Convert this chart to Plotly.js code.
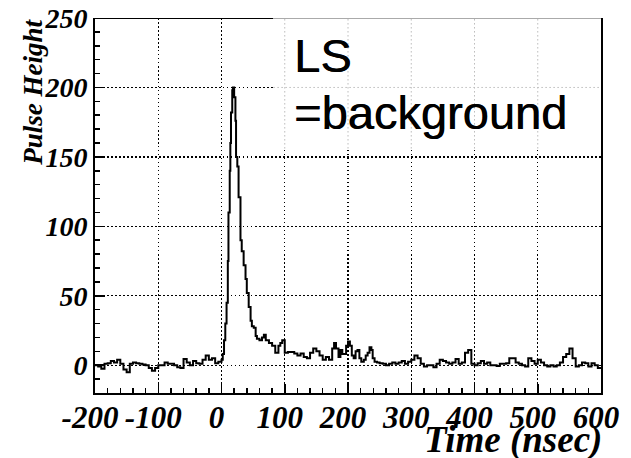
<!DOCTYPE html>
<html>
<head>
<meta charset="utf-8">
<script src="https://cdn.plot.ly/plotly-3.0.1.min.js"></script>
<style>html,body{margin:0;padding:0;background:#fff;}#chart{width:631px;height:458px;}</style>
</head>
<body>
<div id="chart"></div>
<script>
// Time (ns) of each histogram bin start
const timeNs = [-200,-195,-190,-185,-180,-175,-170,-165,-160,-155,-150,-145,-140,-135,-130,-125,-120,-115,-110,-105,
  -100,-95,-90,-85,-80,-75,-70,-65,-60,-55,-50,-45,-40,-35,-30,-25,-20,-15,-10,-5,
  0,2,4,6,8,10,11,13,14,15,17,18,20,22,23,25,27,30,32,35,38,40,43,46,48,51,54,56,60,64,67,70,75,80,85,90,93,96,
  100,105,110,115,120,125,130,135,140,145,150,155,160,165,170,175,178,181,185,188,191,194,197,
  200,203,206,209,212,215,218,221,225,228,231,234,237,239,242,246,250,255,260,265,270,275,280,285,290,295,
  300,305,310,315,320,325,330,335,340,345,350,355,360,365,370,375,380,385,390,395,
  400,405,410,415,420,425,430,435,440,445,450,455,460,465,470,475,480,485,490,495,
  500,505,510,515,520,525,530,535,540,545,550,555,560,565,570,575,580,585,590,595,600];
// Pulse height
const pulseHeight = [0,-1,-2.5,1,1.5,3,2,4,1,-3,-5,1,2,1.5,1,0.5,0,-2,-4,-2,
  0,0,2,1,1,0,-1.5,-2,4.5,2,0,3,1.5,1,4,7,4,5,1.5,2.5,
  4,8,18,30,45,75,110,140,160,182,198,200,193,176,150,143,121,90,82,72,62,52,42,32,28,27,21,19,18,20,22,18,16,14,9,14,16,18,
  9,9.6,9.6,8.5,7,8.5,6,5,9,12,10,7,4,6,4,12,16,12,6,11,8,8,14,
  17,14,7,5,10,11,5,2.5,4,7,9,13,11,5,2.5,2,1.5,1,0,1,2,1,2,3,1,2.5,
  4,7,5,1,-1,0,0,-1.5,1,4,3,2,1,2,4.5,1,2,9,11,1,
  0,1.5,3,1,2,0,0,-0.5,1,1,1.5,5,5,2,1,0,-1,5,3,1,
  4,2,0,-1,0,-1,0,2,6,8,12,5,-1,0,2,1.5,-1,1.5,0,-2,-2];

const xTickVals = [-200,-100,0,100,200,300,400,500,600];
const yTickVals = [0,50,100,150,200,250];

const SERIF = 'Liberation Serif, Times New Roman, serif';
const SANS = 'Liberation Sans, Arial, sans-serif';

const trace = {
  x: timeNs, y: pulseHeight, type: 'scatter', mode: 'lines',
  line: {shape: 'hv', color: '#000', width: 2},
  hoverinfo: 'skip', showlegend: false
};

const layout = {
  width: 631, height: 458,
  margin: {l: 95, r: 30, t: 18, b: 65},
  paper_bgcolor: '#fff', plot_bgcolor: '#fff',
  xaxis: {
    range: [-200, 600], tickvals: xTickVals, ticktext: xTickVals.map(String), tickangle: 0,
    ticks: 'inside', ticklen: 9, tickwidth: 1.5, tickcolor: '#000',
    minor: {dtick: 20, ticks: 'inside', ticklen: 5, tickwidth: 1.5, tickcolor: '#000', showgrid: false},
    showgrid: true, gridcolor: '#000', griddash: '1.5px,2.5px', gridwidth: 1.3,
    zeroline: false, showline: true, linecolor: '#000', linewidth: 2,
    ticklabelshift: -5, ticklabelstandoff: -4,
    tickfont: {family: SERIF, size: 31, color: '#000', weight: 'bold', style: 'italic'}, fixedrange: true
  },
  yaxis: {
    range: [-20, 250], tickvals: yTickVals, ticktext: yTickVals.map(String),
    ticks: 'inside', ticklen: 10, tickwidth: 1.5, tickcolor: '#000',
    minor: {dtick: 10, ticks: 'inside', ticklen: 5, tickwidth: 1.5, tickcolor: '#000', showgrid: false},
    showgrid: true, gridcolor: '#000', griddash: '1.5px,2.5px', gridwidth: 1.3,
    zeroline: false, showline: true, mirror: true, linecolor: '#000', linewidth: 2,
    tickfont: {family: SERIF, size: 28, color: '#000', weight: 'bold', style: 'italic'}, fixedrange: true
  },
  shapes: [
    // white label box overlaying grid in upper right
    {type: 'rect', xref: 'x', yref: 'y', x0: 82, x1: 600, y0: 156, y1: 250, layer: 'between', fillcolor: '#fff', line: {width: 0}},
    {type: 'line', xref: 'x', yref: 'y', x0: 100, x1: 100, y0: 156, y1: 250, layer: 'between', line: {color: '#bbb', width: 1, dash: '1.5px,2.5px'}},
    {type: 'line', xref: 'x', yref: 'y', x0: 200, x1: 200, y0: 156, y1: 250, layer: 'between', line: {color: '#bbb', width: 1, dash: '1.5px,2.5px'}},
    {type: 'line', xref: 'x', yref: 'y', x0: 300, x1: 300, y0: 156, y1: 250, layer: 'between', line: {color: '#bbb', width: 1, dash: '1.5px,2.5px'}},
    {type: 'line', xref: 'x', yref: 'y', x0: 400, x1: 400, y0: 156, y1: 250, layer: 'between', line: {color: '#bbb', width: 1, dash: '1.5px,2.5px'}},
    {type: 'line', xref: 'x', yref: 'y', x0: 500, x1: 500, y0: 156, y1: 250, layer: 'between', line: {color: '#bbb', width: 1, dash: '1.5px,2.5px'}},
    {type: 'line', xref: 'x', yref: 'y', x0: 82, x1: 600, y0: 200, y1: 200, layer: 'between', line: {color: '#bbb', width: 1, dash: '1.5px,2.5px'}},
    // top frame: dark part and light part
    {type: 'line', xref: 'x', yref: 'y', x0: -200, x1: 82, y0: 250, y1: 250, layer: 'above', line: {color: '#000', width: 2}},
    {type: 'line', xref: 'x', yref: 'y', x0: 82, x1: 600, y0: 250, y1: 250, layer: 'above', line: {color: '#aaa', width: 2}}
  ],
  annotations: [
    {text: 'Pulse Height', xref: 'paper', yref: 'paper', x: -0.124, y: 1, xanchor: 'center', yanchor: 'top', yshift: 1,
     textangle: -90, showarrow: false, font: {family: SERIF, size: 27, color: '#000', weight: 'bold', style: 'italic'}},
    {text: 'Time (nsec)', xref: 'paper', yref: 'paper', x: 1, y: -0.126, xanchor: 'right', yanchor: 'middle', xshift: 3,
     showarrow: false, font: {family: SERIF, size: 37, color: '#000', weight: 'bold', style: 'italic'}},
    {text: 'LS', xref: 'paper', yref: 'paper', x: 0.389, y: 0.899, xanchor: 'left', yanchor: 'middle',
     showarrow: false, font: {family: SANS, size: 47, color: '#000', shadow: '0.6px 0 0 #000'}},
    {text: '=background', xref: 'paper', yref: 'paper', x: 0.389, y: 0.749, xanchor: 'left', yanchor: 'middle',
     showarrow: false, font: {family: SANS, size: 47, color: '#000', shadow: '0.6px 0 0 #000'}}
  ]
};

Plotly.newPlot('chart', [trace], layout, {staticPlot: true, displayModeBar: false});
</script>
</body>
</html>
